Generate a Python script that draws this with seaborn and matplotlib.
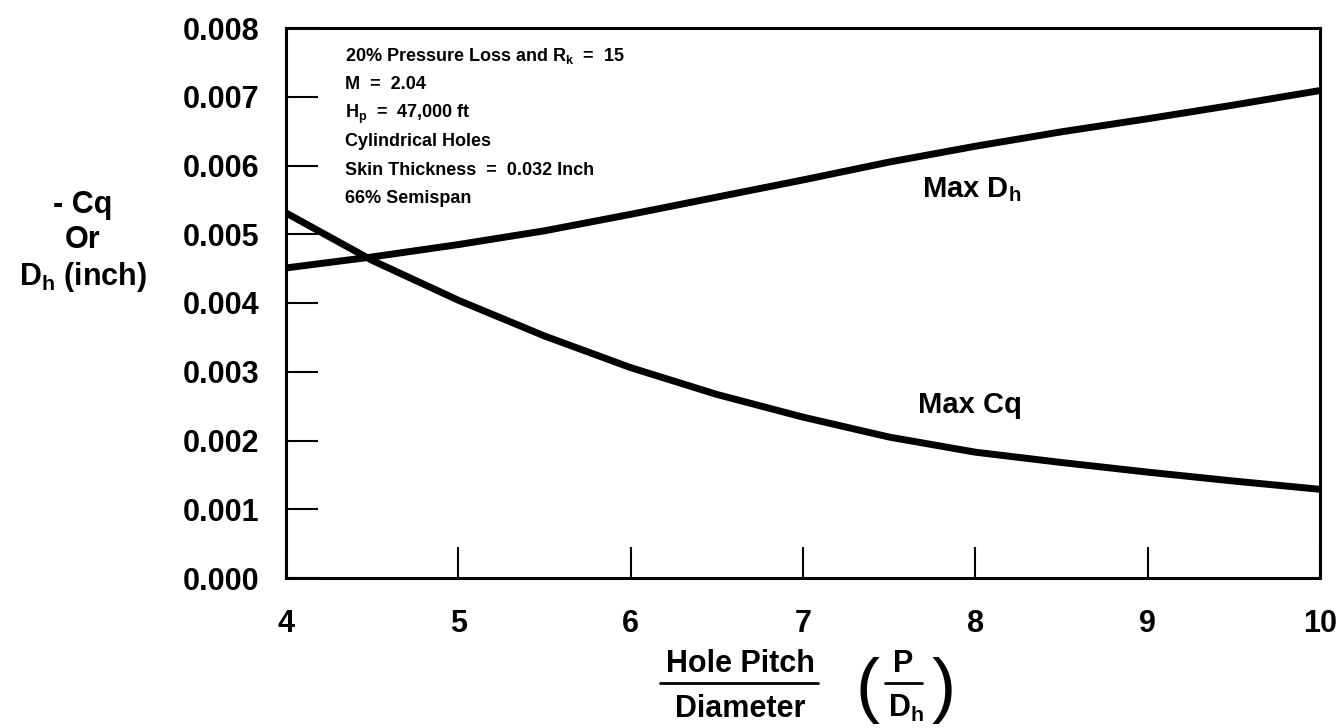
import numpy as np
import pandas as pd
import matplotlib
matplotlib.use("Agg")
import matplotlib.pyplot as plt
from matplotlib.lines import Line2D
import seaborn as sns

# ---- data ----
pitch_ratio = [4.0, 4.5, 5.0, 5.5, 6.0, 6.5, 7.0, 7.5, 8.0, 8.5, 9.0, 9.5, 10.0]
max_cq = [0.00531, 0.00462, 0.00404, 0.00352, 0.00306, 0.00267, 0.00234,
          0.00205, 0.00183, 0.00168, 0.00154, 0.00141, 0.00129]
max_dh = [0.00451, 0.00467, 0.00485, 0.00505, 0.00529, 0.00554, 0.00579,
          0.00605, 0.00628, 0.00649, 0.00668, 0.00688, 0.00709]
x_ticks = [4, 5, 6, 7, 8, 9, 10]
y_ticks = [0.000, 0.001, 0.002, 0.003, 0.004, 0.005, 0.006, 0.007, 0.008]
y_tick_labels = ["0.000", "0.001", "0.002", "0.003", "0.004", "0.005",
                 "0.006", "0.007", "0.008"]
notes = ["20% Pressure Loss and $R_k$  =  15", "M  =  2.04", "$H_p$  =  47,000 ft",
         "Cylindrical Holes", "Skin Thickness  =  0.032 Inch", "66% Semispan"]

df = pd.DataFrame({"P/Dh": pitch_ratio * 2,
                   "value": max_cq + max_dh,
                   "series": ["Max Cq"] * len(max_cq) + ["Max Dh"] * len(max_dh)})

sns.set_theme(style="white")
plt.rcParams["font.family"] = ["Liberation Sans", "DejaVu Sans"]
plt.rcParams["mathtext.fontset"] = "custom"
plt.rcParams["mathtext.default"] = "regular"
plt.rcParams["text.color"] = "black"

W, H = 1341, 728
fig = plt.figure(figsize=(W / 100, H / 100), dpi=100)
fig.patch.set_facecolor("white")

def px(x, y):
    return x / W, 1 - y / H

L, R, T, B = 286, 1320, 28, 578
ax = fig.add_axes([L / W, 1 - B / H, (R - L) / W, (B - T) / H])
ax.set_facecolor("white")

sns.lineplot(data=df, x="P/Dh", y="value", hue="series",
             palette={"Max Cq": "black", "Max Dh": "black"},
             linewidth=5, legend=False, ax=ax, sort=True)

ax.set_xlim(4, 10)
ax.set_ylim(0, 0.008)
ax.set_xticks(x_ticks)
ax.set_xticklabels([str(v) for v in x_ticks])
ax.set_yticks(y_ticks)
ax.set_yticklabels(y_tick_labels)
ax.set_xlabel("")
ax.set_ylabel("")
for s in ax.spines.values():
    s.set_visible(True)
    s.set_color("black")
    s.set_linewidth(2.2)
ax.tick_params(axis="y", direction="in", length=23, width=1.5, color="black",
               pad=19, labelsize=22, left=True, labelcolor="black")
ax.tick_params(axis="x", direction="in", length=22, width=1.5, color="black",
               pad=22, labelsize=22, bottom=True, labelcolor="black")
for lab in ax.get_xticklabels() + ax.get_yticklabels():
    lab.set_fontweight("bold")

# annotation block
for i, line in enumerate(notes):
    ax.text(0.057, 0.94 - i * 0.0516, line, transform=ax.transAxes,
            fontsize=13, fontweight="bold", ha="left", va="baseline", color="black")

# curve labels
ax.text(7.69, 0.00554, "Max $D_h$", fontsize=21, fontweight="bold",
        ha="left", va="baseline", color="black")
ax.text(7.67, 0.0024, "Max Cq", fontsize=21, fontweight="bold",
        ha="left", va="baseline", color="black")

# y label (stacked)
for txt, yb in [("- Cq", 213), ("Or", 248), ("$D_h$ (inch)", 285)]:
    fig.text(*px(83, yb), txt, fontsize=22, fontweight="bold",
             ha="center", va="baseline", color="black")

# x label (fraction form)
fig.text(*px(740, 672), "Hole Pitch", fontsize=22, fontweight="bold",
         ha="center", va="baseline", color="black")
fig.text(*px(740, 717), "Diameter", fontsize=22, fontweight="bold",
         ha="center", va="baseline", color="black")
fig.add_artist(Line2D([660 / W, 818 / W], [1 - 683 / H, 1 - 683 / H],
                      color="black", linewidth=2, transform=fig.transFigure))
fig.text(*px(903, 672), "P", fontsize=22, fontweight="bold",
         ha="center", va="baseline", color="black")
fig.text(*px(906, 717), "$D_h$", fontsize=22, fontweight="bold",
         ha="center", va="baseline", color="black")
fig.add_artist(Line2D([885 / W, 922 / W], [1 - 683 / H, 1 - 683 / H],
                      color="black", linewidth=2, transform=fig.transFigure))
fig.text(*px(868, 690), "(", fontsize=52, fontweight="normal",
         ha="center", va="center", color="black")
fig.text(*px(944, 690), ")", fontsize=52, fontweight="normal",
         ha="center", va="center", color="black")

fig.savefig("out.png", dpi=100, facecolor="white")
